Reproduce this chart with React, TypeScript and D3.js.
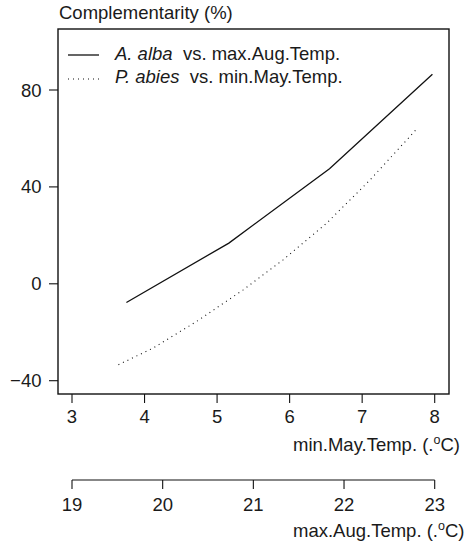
import React from "react";
import * as d3 from "d3";

const albaAugTemp = [19.6, 20.73, 21.84, 22.975];
const albaValue = [-7.7, 16.8, 47.5, 86.5];

const abiesMayTemp = [3.64, 4.12, 4.72, 5.36, 5.91, 6.51, 7.1, 7.52, 7.74];
const abiesValue = [-33.4, -26.5, -15.5, -2.5, 9.9, 25.0, 42.6, 56.3, 63.5];

const yTicks = [-40, 0, 40, 80];
const mayTicks = [3, 4, 5, 6, 7, 8];
const augTicks = [19, 20, 21, 22, 23];

const FONT = "Liberation Sans, Arial, Helvetica, sans-serif";

export default function App() {
  const xMay = d3.scaleLinear().domain([3, 8]).range([72, 434.7]);
  const xAug = d3.scaleLinear().domain([19, 23]).range([72, 434.7]);
  const y = d3.scaleLinear().domain([-40, 80]).range([380.7, 90]);

  const box = { x0: 58, x1: 449, y0: 29, y1: 394 };

  const albaPts: [number, number][] = albaAugTemp.map((t, i) => [xAug(t), y(albaValue[i])]);
  const abiesPts: [number, number][] = abiesMayTemp.map((t, i) => [xMay(t), y(abiesValue[i])]);
  const line = d3.line();

  const tickLen = 9;
  const axis2Y = 480;

  return (
    <svg
      width={468}
      height={544}
      style={{ position: "absolute", left: 0, top: 0, background: "#fff" }}
      fontFamily={FONT}
      fontSize={18.5}
    >
      <rect x={0} y={0} width={468} height={544} fill="#fff" />
      {/* y label */}
      <text x={59} y={18.5} fill="#1a1a1a">Complementarity (%)</text>

      {/* box */}
      <rect
        x={box.x0}
        y={box.y0}
        width={box.x1 - box.x0}
        height={box.y1 - box.y0}
        fill="none"
        stroke="#111"
        strokeWidth={1.4}
      />

      {/* y ticks */}
      {yTicks.map((t) => (
        <g key={"y" + t}>
          <line x1={box.x0 - tickLen} x2={box.x0} y1={y(t)} y2={y(t)} stroke="#111" strokeWidth={1.1} />
          <text x={41.5} y={y(t) + 6.5} textAnchor="end" fill="#1a1a1a">
            {t < 0 ? "\u2212" + Math.abs(t) : t}
          </text>
        </g>
      ))}

      {/* bottom axis (min.May) */}
      {mayTicks.map((t) => (
        <g key={"m" + t}>
          <line x1={xMay(t)} x2={xMay(t)} y1={box.y1} y2={box.y1 + tickLen} stroke="#111" strokeWidth={1.1} />
          <text x={xMay(t)} y={423} textAnchor="middle" fill="#1a1a1a">{t}</text>
        </g>
      ))}
      <text x={293} y={451} fill="#1a1a1a">
        min.May.Temp. (.
        <tspan fontSize={12.5} dy={-7}>o</tspan>
        <tspan dy={7}>C)</tspan>
      </text>

      {/* second axis (max.Aug) */}
      <line x1={xAug(19)} x2={xAug(23)} y1={axis2Y} y2={axis2Y} stroke="#111" strokeWidth={1.1} />
      {augTicks.map((t) => (
        <g key={"a" + t}>
          <line x1={xAug(t)} x2={xAug(t)} y1={axis2Y} y2={axis2Y + tickLen} stroke="#111" strokeWidth={1.1} />
          <text x={xAug(t)} y={510.5} textAnchor="middle" fill="#1a1a1a">{t}</text>
        </g>
      ))}
      <text x={293} y={536.5} fill="#1a1a1a">
        max.Aug.Temp. (.
        <tspan fontSize={12.5} dy={-7}>o</tspan>
        <tspan dy={7}>C)</tspan>
      </text>

      {/* data lines */}
      <path d={line(albaPts) || ""} fill="none" stroke="#111" strokeWidth={1.3} />
      <path d={line(abiesPts) || ""} fill="none" stroke="#111" strokeWidth={1.1} strokeDasharray="1,4" />

      {/* legend */}
      <line x1={68} x2={99} y1={55} y2={55} stroke="#111" strokeWidth={1.3} />
      <text x={115} y={59.5} fill="#1a1a1a">
        <tspan fontStyle="italic">A. alba</tspan>
        <tspan>{"\u00a0 vs. max.Aug.Temp."}</tspan>
      </text>
      <line x1={68} x2={99} y1={79} y2={79} stroke="#111" strokeWidth={1.1} strokeDasharray="1,4" />
      <text x={115} y={83} fill="#1a1a1a">
        <tspan fontStyle="italic">P. abies</tspan>
        <tspan>{"\u00a0 vs. min.May.Temp."}</tspan>
      </text>
    </svg>
  );
}
